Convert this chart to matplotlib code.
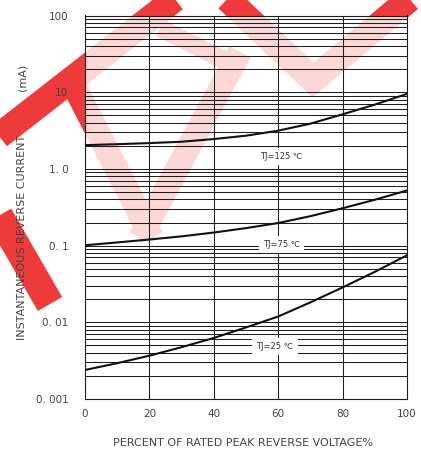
import matplotlib
matplotlib.use("Agg")
import matplotlib.pyplot as plt
from matplotlib.ticker import FixedLocator, LogLocator, NullFormatter

# percent of rated peak reverse voltage
pct = [0, 10, 20, 30, 40, 50, 60, 70, 80, 90, 100]
# instantaneous reverse current (mA)
i_125 = [2.04, 2.10, 2.17, 2.26, 2.45, 2.71, 3.15, 3.89, 5.15, 6.89, 9.5]
i_75 = [0.101, 0.110, 0.120, 0.132, 0.148, 0.169, 0.197, 0.242, 0.307, 0.396, 0.523]
i_25 = [0.00239, 0.00293, 0.00367, 0.00474, 0.00625, 0.00857, 0.0119, 0.0182, 0.0285, 0.0455, 0.0748]

ytick_vals = [0.001, 0.01, 0.1, 1.0, 10, 100]
ytick_labels = ["0. 001", "0. 01", "0. 1", "1. 0", "10", "100"]
xtick_vals = [0, 20, 40, 60, 80, 100]

W, H = 421, 454
fig = plt.figure(figsize=(W / 100, H / 100), dpi=100)

# red watermark behind everything (pixel coords)
bg = fig.add_axes([0, 0, 1, 1], zorder=0)
bg.set_xlim(0, W)
bg.set_ylim(H, 0)
bg.axis("off")
red = "#ee3a3a"
strokes = [
    ([-10, 180], [143, -5], 26),
    ([72, 152], [82, 238], 24),
    ([140, 240], [238, 52], 24),
    ([160, 244], [28, 70], 18),
    ([220, 313, 418], [-8, 80, -8], 26),
    ([-10, 50], [200, 304], 28),
]
for xs, ys, w in strokes:
    bg.plot(xs, ys, color=red, lw=w * 0.72, solid_capstyle="butt",
            solid_joinstyle="miter")

left, right, top, bottom = 85, 407, 15.5, 399
ax = fig.add_axes([left / W, 1 - bottom / H, (right - left) / W, (bottom - top) / H],
                  zorder=1)
ax.set_facecolor((1, 1, 1, 0.8))

ax.set_yscale("log")
ax.set_xlim(0, 100)
ax.set_ylim(0.001, 100)

gc = "#1e1e1e"
ax.yaxis.set_major_locator(FixedLocator(ytick_vals))
ax.yaxis.set_minor_locator(LogLocator(base=10, subs=range(2, 10), numticks=20))
ax.yaxis.set_minor_formatter(NullFormatter())
ax.set_yticks(ytick_vals)
ax.set_yticklabels(ytick_labels)
ax.set_xticks(xtick_vals)
ax.grid(True, which="both", axis="y", color=gc, lw=0.75)
ax.grid(True, which="major", axis="x", color=gc, lw=0.75)
ax.tick_params(which="both", length=0, labelsize=7.5, labelcolor="#444444")
ax.tick_params(axis="y", pad=12)
ax.tick_params(axis="x", pad=7)
for s in ax.spines.values():
    s.set_color(gc)
    s.set_linewidth(0.8)

lc = "#111111"
ax.plot(pct, i_125, color=lc, lw=1.5, zorder=3)
ax.plot(pct, i_75, color=lc, lw=1.5, zorder=3)
ax.plot(pct, i_25, color=lc, lw=1.5, zorder=3)

box = dict(facecolor="white", edgecolor="none", pad=3)
ax.text(61, 1.45, "TJ=125 ℃", fontsize=6, color="#333333", ha="center",
        va="center", bbox=box, zorder=4)
ax.text(61, 0.103, "TJ=75 ℃", fontsize=6, color="#333333", ha="center",
        va="center", bbox=box, zorder=4)
ax.text(59, 0.0048, "TJ=25 ℃", fontsize=6, color="#333333", ha="center",
        va="center", bbox=box, zorder=4)

fig.text(22 / W, 1 - 237 / H, "INSTANTANEOUS REVERSE CURRENT", rotation=90,
         ha="center", va="center", fontsize=8, color="#444444")
fig.text(22 / W, 1 - 77 / H, "(mA)", rotation=90,
         ha="center", va="center", fontsize=8, color="#444444")
fig.text(243 / W, 1 - 443 / H, "PERCENT OF RATED PEAK REVERSE VOLTAGE%",
         ha="center", va="center", fontsize=8, color="#444444")

fig.savefig("out.png", dpi=100)
